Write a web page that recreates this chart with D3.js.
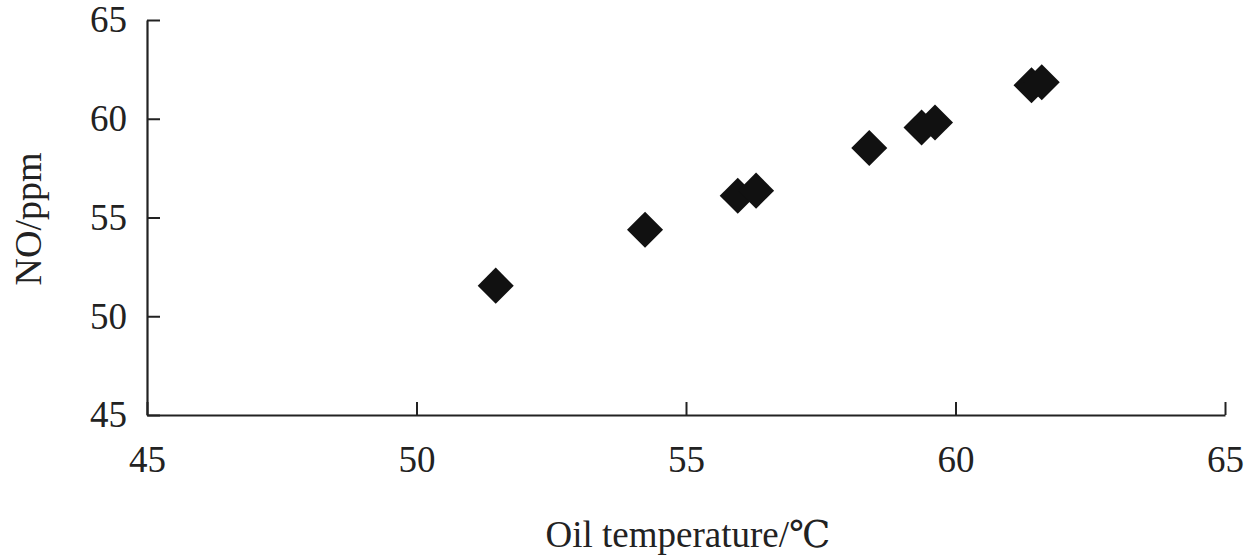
<!DOCTYPE html>
<html>
<head>
<meta charset="utf-8">
<script src="https://cdn.jsdelivr.net/npm/d3@7"></script>
<style>
  body { margin: 0; background: #fff; }
  text { font-family: "Liberation Serif", "DejaVu Serif", serif; fill: #222; }
</style>
</head>
<body>
<script>
const width  = 1251
const height = 557

const oilTemp = [51.47, 54.24, 55.96, 56.30, 58.40, 59.37, 59.62, 61.41, 61.60]
const noPpm   = [51.55, 54.38, 56.10, 56.36, 58.52, 59.56, 59.81, 61.70, 61.85]
const xTicks  = [45, 50, 55, 60, 65]
const yTicks  = [45, 50, 55, 60, 65]

const margin = {top: 20, right: 26, bottom: 142, left: 147}

const x = d3.scaleLinear().domain([45, 65]).range([margin.left, width - margin.right])
const y = d3.scaleLinear().domain([45, 65]).range([height - margin.bottom, margin.top])

const svg = d3.select("body").append("svg")
	.attr("width", width)
	.attr("height", height)

// y axis (ticks point inward)
svg.append("g")
  .attr("transform", `translate(${margin.left},0)`)
  .call(d3.axisRight(y).tickValues(yTicks).tickSize(13).tickSizeOuter(0).tickFormat(d3.format("d")))
  .call(g => g.select(".domain").attr("stroke", "#222").attr("stroke-width", 2.2))
  .call(g => g.selectAll(".tick line").attr("stroke", "#222").attr("stroke-width", 2))
  .call(g => g.selectAll(".tick text")
	.attr("x", -20)
	.attr("text-anchor", "end")
	.attr("font-size", 37)
	.attr("fill", "#222"))

// x axis (ticks point up)
svg.append("g")
  .attr("transform", `translate(0,${height - margin.bottom})`)
  .call(d3.axisTop(x).tickValues(xTicks).tickSize(13).tickSizeOuter(0).tickFormat(d3.format("d")))
  .call(g => g.select(".domain").attr("stroke", "#222").attr("stroke-width", 2.2))
  .call(g => g.selectAll(".tick text")
	.attr("y", 57)
	.attr("dy", 0)
	.attr("font-size", 37)
	.attr("fill", "#222"))
  .call(g => g.selectAll(".tick line").attr("stroke", "#222").attr("stroke-width", 2))

// diamonds
const diamond = d3.symbol().type(d3.symbolSquare).size(650)
svg.append("g")
.selectAll("path")
.data(oilTemp.map((t, i) => [t, noPpm[i]]))
.join("path")
  .attr("d", diamond)
  .attr("fill", "#111")
  .attr("transform", d => `translate(${x(d[0])},${y(d[1])}) rotate(45)`)

// titles
svg.append("text")
  .attr("x", 688)
  .attr("y", 547)
  .attr("text-anchor", "middle")
  .attr("font-size", 37)
  .text("Oil temperature/℃")

svg.append("text")
  .attr("transform", `translate(41,219) rotate(-90)`)
  .attr("text-anchor", "middle")
  .attr("font-size", 38)
  .text("NO/ppm")
</script>
</body>
</html>
